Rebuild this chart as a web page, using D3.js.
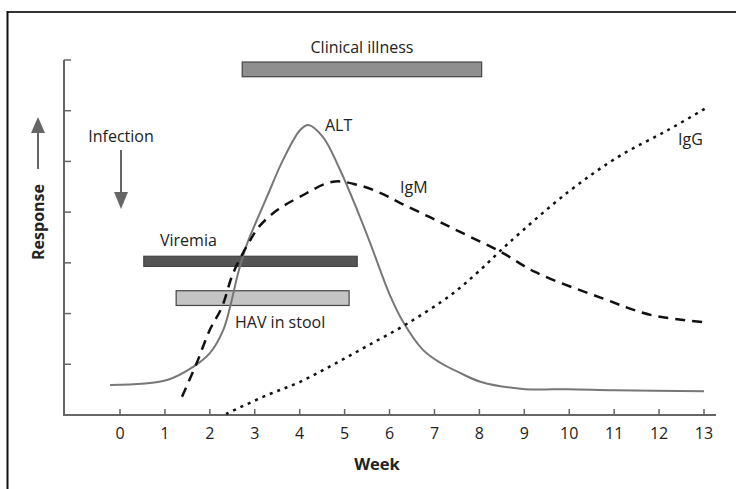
<!DOCTYPE html>
<html><head><meta charset="utf-8">
<script src="https://cdn.jsdelivr.net/npm/d3@7"></script>
<style>body{margin:0;background:#fff}svg{display:block}text{font-family:"Open Sans","Noto Sans",sans-serif;fill:#222}</style>
</head><body><svg id="c" width="736" height="489"></svg>
<script>
const weekTicks = [0,1,2,3,4,5,6,7,8,9,10,11,12,13];
const responseTicks = [0,1,2,3,4,5,6,7];
const altWeeks = [-0.22,1.05,1.63,2.0,2.3,2.45,2.63,2.83,3.05,3.27,3.63,4.01,4.19,4.52,4.9,5.28,5.57,5.79,6.01,6.3,6.75,7.13,7.57,8.04,9.02,9.98,11.02,13.0];
const altValues = [0.59,0.69,0.95,1.22,1.68,2.13,2.8,3.38,3.85,4.3,5.03,5.62,5.72,5.48,4.83,4.04,3.39,2.86,2.36,1.84,1.28,1.03,0.83,0.65,0.51,0.51,0.49,0.47];
const igmWeeks = [1.38,1.71,2.0,2.27,2.52,2.9,3.1,3.5,4.0,4.74,5.28,5.79,6.24,6.9,7.57,8.49,9.24,10.71,11.83,13.0];
const igmValues = [0.36,1.03,1.68,2.13,2.8,3.45,3.72,4.04,4.3,4.6,4.54,4.38,4.18,3.9,3.61,3.21,2.82,2.31,1.97,1.83];
const iggWeeks = [2.36,3.27,4.0,4.74,5.5,6.41,7.37,7.97,8.64,9.98,11.09,12.2,13.1];
const iggValues = [0.02,0.39,0.65,0.99,1.36,1.81,2.37,2.82,3.38,4.4,5.09,5.62,6.08];
const barNames = ["Clinical illness","Viremia","HAV in stool"];
const barStart = [2.72,0.53,1.25];
const barEnd = [8.05,5.28,5.1];
const barTop = [6.96,3.13,2.45];
const barBottom = [6.67,2.93,2.16];

const svg = d3.select("#c");
const x = d3.scaleLinear().domain([0,13]).range([120,704]);
const y = d3.scaleLinear().domain([0,7]).range([415,60]);

// frame
svg.append("line").attr("x1",7).attr("x2",736).attr("y1",12).attr("y2",12).attr("stroke","#333").attr("stroke-width",2);
svg.append("line").attr("x1",7.5).attr("x2",7.5).attr("y1",11).attr("y2",489).attr("stroke","#111").attr("stroke-width",2);

const axCol = "#666";
// y axis
svg.append("line").attr("x1",64).attr("x2",64).attr("y1",60).attr("y2",415).attr("stroke",axCol).attr("stroke-width",2);
svg.selectAll(".yt").data(responseTicks).join("line").attr("x1",64).attr("x2",71)
  .attr("y1",d=>y(d)).attr("y2",d=>y(d)).attr("stroke",axCol).attr("stroke-width",1.5);
// x axis
svg.append("line").attr("x1",63).attr("x2",716).attr("y1",415).attr("y2",415).attr("stroke",axCol).attr("stroke-width",2);
svg.selectAll(".xt").data(weekTicks).join("line").attr("x1",d=>x(d)).attr("x2",d=>x(d))
  .attr("y1",415).attr("y2",409).attr("stroke",axCol).attr("stroke-width",1.5);
svg.selectAll(".xl").data(weekTicks).join("text").attr("x",d=>x(d)).attr("y",439)
  .attr("text-anchor","middle").attr("font-size",16).text(d=>d);
svg.append("text").attr("x",377).attr("y",470).attr("text-anchor","middle").attr("font-size",16.5).attr("font-weight","bold").text("Week");
svg.append("text").attr("transform","translate(44,222) rotate(-90)").attr("text-anchor","middle").attr("font-size",16).attr("font-weight","bold").text("Response");

// arrows
const arrowCol = "#666";
svg.append("line").attr("x1",38).attr("x2",38).attr("y1",169).attr("y2",130).attr("stroke",arrowCol).attr("stroke-width",2);
svg.append("path").attr("d","M38,117 L45,133 L31,133 Z").attr("fill",arrowCol);
svg.append("line").attr("x1",121).attr("x2",121).attr("y1",150).attr("y2",195).attr("stroke",arrowCol).attr("stroke-width",2);
svg.append("path").attr("d","M121,209 L128,192 L114,192 Z").attr("fill",arrowCol);
svg.append("text").attr("x",121).attr("y",142).attr("text-anchor","middle").attr("font-size",16).text("Infection");

// bars
const barFill = ["#8f8f8f","#555555","#c4c4c4"];
svg.selectAll(".bar").data(barNames).join("rect")
  .attr("x",(d,i)=>x(barStart[i])).attr("width",(d,i)=>x(barEnd[i])-x(barStart[i]))
  .attr("y",(d,i)=>y(barTop[i])).attr("height",(d,i)=>y(barBottom[i])-y(barTop[i]))
  .attr("fill",(d,i)=>barFill[i]).attr("stroke","#444").attr("stroke-width",1.2);

// curves
const line = d3.line().x(d=>x(d[0])).y(d=>y(d[1])).curve(d3.curveCatmullRom);
svg.append("path").datum(altWeeks.map((w,i)=>[w,altValues[i]])).attr("d",line)
  .attr("fill","none").attr("stroke","#777").attr("stroke-width",2);
svg.append("path").datum(igmWeeks.map((w,i)=>[w,igmValues[i]])).attr("d",line)
  .attr("fill","none").attr("stroke","#111").attr("stroke-width",2.5).attr("stroke-dasharray","10,7");
svg.append("path").datum(iggWeeks.map((w,i)=>[w,iggValues[i]])).attr("d",line)
  .attr("fill","none").attr("stroke","#111").attr("stroke-width",2.5).attr("stroke-dasharray","3,5");

// labels
const lbl = (t,px,py,anchor)=>svg.append("text").attr("x",px).attr("y",py).attr("text-anchor",anchor||"start").attr("font-size",16).text(t);
lbl("Clinical illness",362,53,"middle");
lbl("Viremia",160,246);
lbl("HAV in stool",235,328);
lbl("ALT",325,131);
lbl("IgM",400,193);
lbl("IgG",678,145);
</script></body></html>
